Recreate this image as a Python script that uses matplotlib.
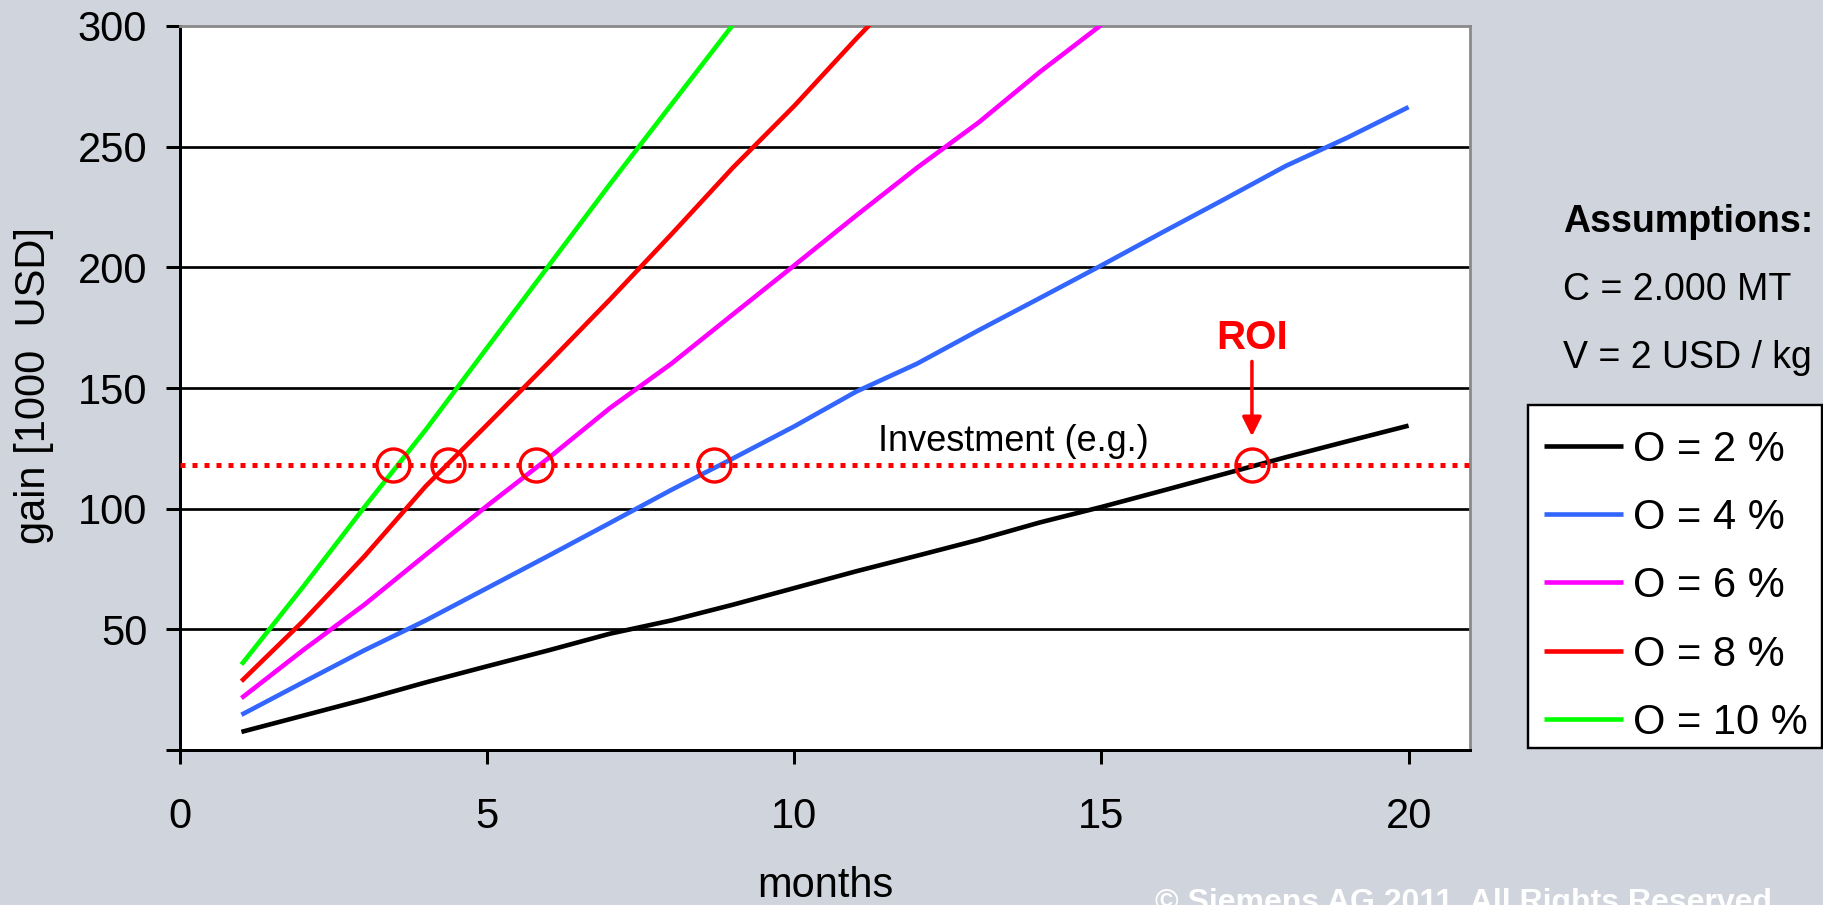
import numpy as np
import matplotlib
matplotlib.use("Agg")
import matplotlib.pyplot as plt
from matplotlib.patches import Rectangle
from matplotlib.lines import Line2D

plt.rcParams['font.family'] = ['Liberation Sans', 'DejaVu Sans']

# --- data -------------------------------------------------------------
months = list(range(1, 21))

gain_o2 = [7.5, 14.2, 20.9, 28.0, 34.7, 41.3, 48.2, 53.7, 60.2, 67.1,
           74.0, 80.5, 87.1, 94.3, 100.7, 107.5, 114.4, 121.3, 127.9, 134.4]
gain_o4 = [14.6, 28.0, 41.3, 53.7, 67.1, 80.5, 94.1, 107.8, 120.8, 134.1,
           148.4, 160.1, 173.9, 187.3, 200.8, 214.6, 228.2, 242.0, 253.7, 266.4]
gain_o6 = [21.5, 41.3, 60.2, 80.9, 101.2, 121.0, 141.7, 160.1, 180.5, 200.8,
           221.3, 241.3, 260.0, 281.0, 300.5]
gain_o8 = [28.5, 53.3, 80.2, 109.3, 134.8, 160.5, 186.7, 213.7, 241.3, 266.9,
           294.5, 321.0]
gain_o10 = [35.4, 67.5, 100.6, 132.7, 166.7, 200.6, 234.5, 267.5, 300.5]

series_labels = ["O = 2 %", "O = 4 %", "O = 6 %", "O = 8 %", "O = 10 %"]
series_colors = ["#000000", "#3366FF", "#FF00FF", "#FF0000", "#00FF00"]

investment = 118
# months at which the circled break-even points are marked
roi_months = [17.45, 8.70, 5.80, 4.36, 3.47]

x_ticks = [0, 5, 10, 15, 20]
y_ticks = [0, 50, 100, 150, 200, 250, 300]
y_tick_labels = ["", "50", "100", "150", "200", "250", "300"]

assumption_title = "Assumptions:"
assumption_lines = ["C = 2.000 MT", "V = 2 USD / kg"]

# --- styling ----------------------------------------------------------
PX = 0.72  # points per pixel at 100 dpi
BG = "#D0D4DC"
W, H = 1824, 905


def fx(px):
    return px / W


def fy(px):
    return 1 - px / H


fig = plt.figure(figsize=(W / 100, H / 100), dpi=100, facecolor=BG)
ax = fig.add_axes([180 / W, 1 - 750 / H, 1290 / W, 724 / H])
ax.set_facecolor("white")
ax.set_xlim(0, 21)
ax.set_ylim(0, 300)

series = [gain_o2, gain_o4, gain_o6, gain_o8, gain_o10]
for vals, lab, col in zip(series, series_labels, series_colors):
    ax.plot(months[:len(vals)], vals, color=col, lw=4.6 * PX, label=lab,
            solid_capstyle="butt", solid_joinstyle="round", zorder=3)

# investment threshold
ax.axhline(investment, color="#FF0000", lw=5 * PX, linestyle=(0, (1, 1.4)),
           dash_capstyle="butt", zorder=4)

# circled break-even points
ax.plot(roi_months, [investment] * len(roi_months), linestyle="none",
        marker="o", ms=33 * PX, mfc="none", mec="#FF0000", mew=3.4 * PX,
        zorder=5)

ax.text(11.36, 124, "Investment (e.g.)", fontsize=26, ha="left",
        va="baseline", color="black", zorder=6)

# ROI call-out above the slowest curve's break-even
ax.annotate("", xy=(roi_months[0], 130), xytext=(roi_months[0], 161),
            arrowprops=dict(arrowstyle="-|>,head_length=0.58,head_width=0.29",
                            mutation_scale=20, color="#FF0000",
                            lw=3.5 * PX, shrinkA=0, shrinkB=0),
            zorder=6)
ax.text(roi_months[0], 166, "ROI", fontsize=29, fontweight="bold",
        color="#FF0000", ha="center", va="baseline", zorder=6)

# axes, ticks, grid
ax.set_xticks(x_ticks)
ax.set_yticks(y_ticks)
ax.set_yticklabels(y_tick_labels)
ax.tick_params(axis="both", direction="out", length=14 * PX, width=3 * PX,
               color="black", labelsize=30)
ax.tick_params(axis="x", pad=24)
ax.tick_params(axis="y", pad=13.5)

ax.yaxis.grid(True, color="black", lw=2.7 * PX, zorder=1)
ax.set_axisbelow(True)
for gl, v in zip(ax.yaxis.get_gridlines(), y_ticks):
    if v in (0, 300):
        gl.set_visible(False)

for side in ("left", "bottom"):
    ax.spines[side].set_color("black")
    ax.spines[side].set_linewidth(3 * PX)
for side in ("top", "right"):
    ax.spines[side].set_color("#8A8A8A")
    ax.spines[side].set_linewidth(2.8 * PX)

fig.text(fx(34), fy(386), "gain [1000  USD]", rotation=90,
         fontsize=30, ha="center", va="center")
fig.text(fx(825), fy(886), "months", fontsize=30, ha="center",
         va="center")

# assumptions block
fig.text(fx(1563), fy(231.7), assumption_title, fontsize=27,
         fontweight="bold", ha="left", va="baseline")
for txt, base in zip(assumption_lines, [300.5, 367.5]):
    fig.text(fx(1563), fy(base), txt, fontsize=27, ha="left",
             va="baseline")

# legend box, drawn in figure pixels
box_l, box_t, box_r, box_b = 1528, 405, 1822, 748
fig.patches.append(Rectangle((fx(box_l), fy(box_b)), fx(box_r - box_l),
                             (box_b - box_t) / H, transform=fig.transFigure,
                             facecolor="white", edgecolor="black",
                             lw=2.4 * PX, zorder=1))
first_row, row_step = 445.7, 68.3
for i, (lab, col) in enumerate(zip(series_labels, series_colors)):
    yc = first_row + i * row_step
    fig.lines.append(Line2D([fx(1544), fx(1623)], [fy(yc), fy(yc)],
                            transform=fig.transFigure, color=col,
                            lw=4.6 * PX, solid_capstyle="butt", zorder=2))
    fig.text(fx(1633), fy(yc + 15), lab, fontsize=30, ha="left",
             va="baseline", zorder=3)

fig.text(fx(1155), fy(911), "© Siemens AG 2011, All Rights Reserved",
         fontsize=23, fontweight="bold", color="white", ha="left",
         va="baseline")

fig.savefig("out.png", dpi=100, facecolor=BG)
